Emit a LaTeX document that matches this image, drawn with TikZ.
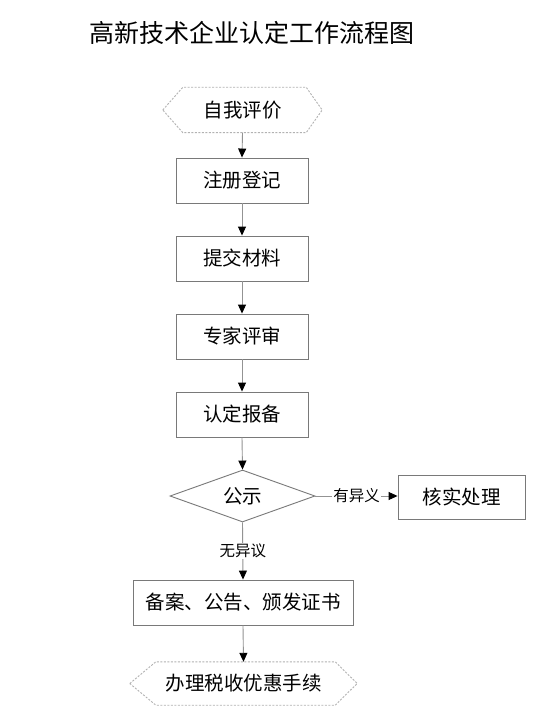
\documentclass[tikz,border=0pt]{standalone}
\usepackage{fontspec}
\setmainfont{Noto Sans CJK SC}
\usetikzlibrary{shapes.geometric,arrows.meta}
\begin{document}
\begin{tikzpicture}[x=1pt,y=-1pt,
  boxstyle/.style={draw=gray!95!black,line width=0.9pt,rectangle,inner sep=0pt,minimum height=45pt,font=\fontsize{19.5}{21}\selectfont},
  hexstyle/.style={rectangle,inner sep=0pt,font=\fontsize{19.5}{21}\selectfont},
  hexline/.style={draw=gray!60,line width=0.9pt,dash pattern=on 2pt off 1.5pt},
  conn/.style={draw=gray!85,line width=0.9pt,-{Triangle[length=9pt,width=8pt,color=black,fill=black]}},
  lbl/.style={fill=white,inner sep=1pt,font=\fontsize{15.5}{17}\selectfont}]
\useasboundingbox (0,0) rectangle (532,727);
\fill[white] (0,0) rectangle (532,727);
\node (title) at (252,33) {\fontsize{25}{27}\selectfont 高新技术企业认定工作流程图};
\node[hexstyle,minimum width=159pt,minimum height=45pt] (h1) at (242.5,110) {自我评价};
\draw[hexline] (h1.west) -- ([xshift=20pt]h1.north west) -- ([xshift=-16pt]h1.north east) -- (h1.east) -- ([xshift=-16pt]h1.south east) -- ([xshift=20pt]h1.south west) -- cycle;
\node[boxstyle,minimum width=132pt] (b1) at (242,180.5) {注册登记};
\node[boxstyle,minimum width=132pt] (b2) at (242,258.5) {提交材料};
\node[boxstyle,minimum width=132pt] (b3) at (242,336.5) {专家评审};
\node[boxstyle,minimum width=132pt] (b4) at (242,414.5) {认定报备};
\node[diamond,draw=gray!95!black,line width=0.9pt,inner sep=0pt,minimum width=145pt,minimum height=52pt,shape aspect=2.8,font=\fontsize{19.5}{21}\selectfont] (d) at (242.5,496) {公示};
\node[boxstyle,minimum width=127pt,minimum height=44pt] (k) at (461.5,497) {核实处理};
\node[boxstyle,minimum width=220pt] (b5) at (243,602.5) {备案、公告、颁发证书};
\node[hexstyle,minimum width=227pt,minimum height=43pt] (h2) at (243.5,683.5) {办理税收优惠手续};
\draw[hexline] (h2.west) -- ([xshift=26pt]h2.north west) -- ([xshift=-22pt]h2.north east) -- (h2.east) -- ([xshift=-22pt]h2.south east) -- ([xshift=26pt]h2.south west) -- cycle;
\draw[conn] (h1.south) -- (b1.north);
\draw[conn] (b1.south) -- (b2.north);
\draw[conn] (b2.south) -- (b3.north);
\draw[conn] (b3.south) -- (b4.north);
\draw[conn] (b4.south) -- (d.north);
\draw[conn] (d.east) -- node[lbl] (l1) {有异义} (k.west |- d.east);
\draw[conn] (d.south) -- node[lbl] (l2) {无异议} (b5.north);
\draw[conn] (b5.south) -- (h2.north);
\end{tikzpicture}
\end{document}
